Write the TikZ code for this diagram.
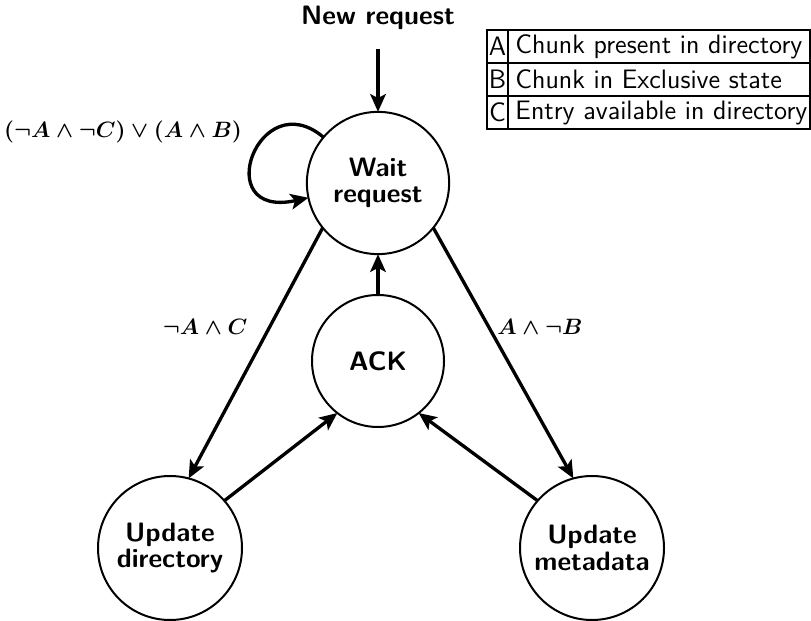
\documentclass[tikz,border=0pt]{standalone}
\usetikzlibrary{arrows.meta}
\begin{document}
\begin{tikzpicture}[x=0.45pt,y=-0.45pt,
  state/.style={circle,draw,line width=0.9pt,inner sep=0pt,outer sep=0pt,font=\sffamily\bfseries\large,align=center},
  arr/.style={line width=1.5pt,-{Stealth[length=8pt,width=7pt,inset=1.8pt]}},
  lab/.style={font=\boldmath},
  cell/.style={font=\sffamily\large,anchor=west,inner sep=0pt}
]
\useasboundingbox (0,0) rectangle (811,621);
\node[state,minimum size=64pt] (W) at (378,183) {Wait\\[-2pt]request};
\node[state,minimum size=59.4pt] (K) at (378,361) {ACK};
\node[state,minimum size=64.8pt] (D) at (170,548) {Update\\[-2pt]directory};
\node[state,minimum size=64.8pt] (M) at (592,548) {Update\\[-2pt]metadata};
\node[font=\sffamily\bfseries\large] (N) at (378,18) {New request};
\node[lab] (L) at (123,132) {$(\neg A\wedge\neg C)\vee(A\wedge B)$};
\node[lab] (LD) at (205,327) {$\neg A\wedge C$};
\node[lab] (LM) at (540,327) {$A\wedge\neg B$};

\draw[arr,shorten <=5pt] (N.south) -- (W.north);
\draw[arr] (W.140) .. controls +(-65,-55) and +(-100,22) .. (W.192);
\draw[arr] (W.219) -- (D.75);
\draw[arr] (W.-39) -- (M.105);
\draw[arr] (K.north) -- (W.south);
\draw[arr] (D.41) -- (K.232);
\draw[arr] (M.139) -- (K.308);

% table
\draw[line width=0.6pt] (487,30) rectangle (810,129);
\draw[line width=0.6pt] (487,63) -- (810,63) (487,96) -- (810,96) (508,30) -- (508,129);
\node[font=\sffamily\large] (ta) at (497.5,46.5) {A};
\node[font=\sffamily\large] (tb) at (497.5,79.5) {B};
\node[font=\sffamily\large] (tc) at (497.5,112.5) {C};
\node[cell] (da) at (515,46.5) {Chunk present in directory};
\node[cell] (db) at (515,79.5) {Chunk in Exclusive state};
\node[cell] (dc) at (515,112.5) {Entry available in directory};
\end{tikzpicture}
\end{document}
